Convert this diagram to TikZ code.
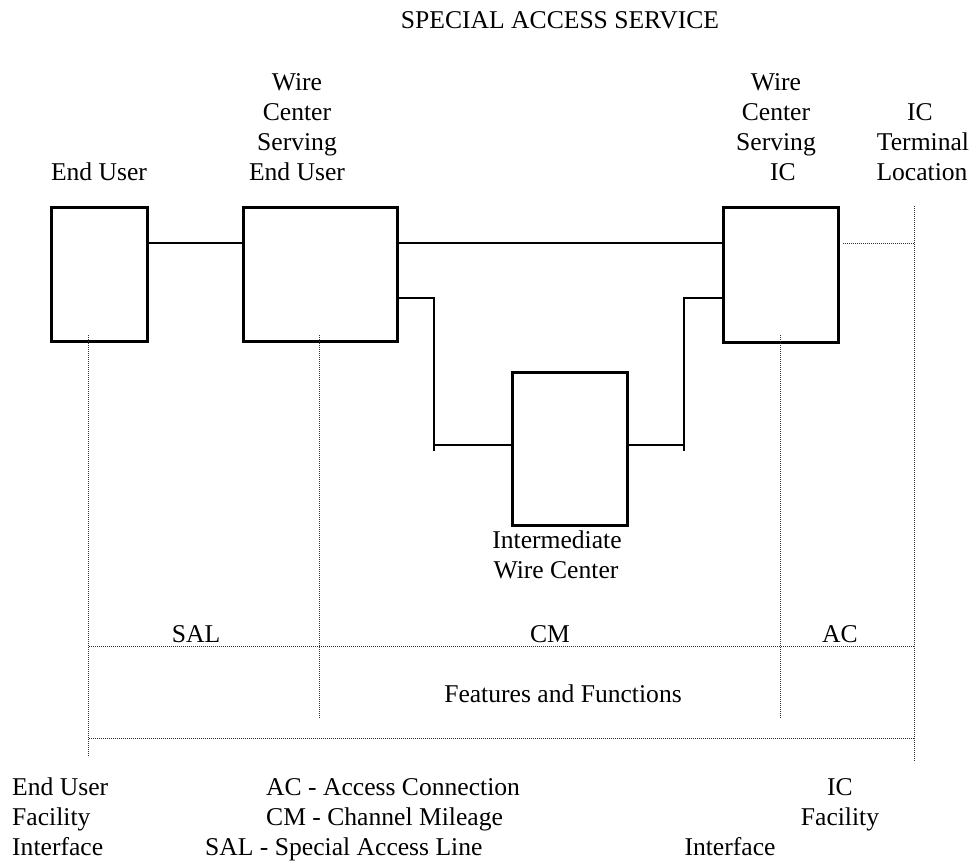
\documentclass[tikz,border=0pt]{standalone}
\usepackage{fontspec}
\setmainfont{Liberation Serif}
\begin{document}
\begin{tikzpicture}[x=1bp,y=-1bp,
  txt/.style={font=\fontsize{25.6bp}{30bp}\selectfont, inner sep=0pt, anchor=base},
  boxnode/.style={draw, line width=2.5bp, inner sep=0pt, anchor=north west},
  wire/.style={line width=2.4bp, line join=miter},
  guide/.style={draw=black!80, line width=1bp, dash pattern=on 1bp off 1bp}]
\useasboundingbox (0,0) rectangle (978,863);

% offices
\node[boxnode, minimum width=96bp,  minimum height=134bp] (eu)  at (50,206)  {};
\node[boxnode, minimum width=154bp, minimum height=134bp] (wce) at (242,206) {};
\node[boxnode, minimum width=115bp, minimum height=135bp] (wci) at (722,206) {};
\node[boxnode, minimum width=115bp, minimum height=153bp] (iwc) at (511,371) {};

% circuit levels and junctions
\coordinate (r1) at (0,243);
\coordinate (r2) at (0,298);
\coordinate (jl)  at (434,445);
\coordinate (jlb) at (434,451);
\coordinate (jr)  at (684,445);
\coordinate (jrb) at (684,451);

% direct and routed circuits
\draw[wire] (eu.east |- r1) -- (wce.west |- r1);
\draw[wire] (wce.east |- r1) -- (wci.west |- r1);
\draw[wire] (wce.east |- r2) -| (jlb);
\draw[wire] (jl) -- (iwc.west |- jl);
\draw[wire] (iwc.east |- jr) -- (jr);
\draw[wire] (jrb) |- (wci.west |- r2);

% interface guides
\coordinate (g1t) at (88.7,335); \coordinate (g1b) at (88.7,757);
\coordinate (g2t) at (319,335);  \coordinate (g2b) at (319,718);
\coordinate (g3t) at (780,335);  \coordinate (g3b) at (780,718);
\coordinate (g4t) at (914,206);  \coordinate (g4b) at (914,762);
\coordinate (s1) at (0,646);
\coordinate (s2) at (0,738);
\draw[guide] (g1t) -- (g1b);
\draw[guide] (g2t) -- (g2b);
\draw[guide] (g3t) -- (g3b);
\draw[guide] (g4t) -- (g4b);
\draw[guide] ([xshift=3bp]wci.east |- r1) -- (g4t |- r1);
\draw[guide] (g1t |- s1) -- (g4t |- s1);
\draw[guide] (g1t |- s2) -- (g4t |- s2);

% title
\node[txt] (title) at (560,28) {SPECIAL ACCESS SERVICE};

% office labels
\node[txt] (euL) at (99,180) {End User};
\foreach \t [count=\i] in {Wire,Center,Serving,End User}
  \node[txt] (wceL\i) at (297,60+30*\i) {\t};
\foreach \t [count=\i] in {Wire,Center,Serving}
  \node[txt] (wciL\i) at (776,60+30*\i) {\t};
\node[txt] (wciL4) at (783,180) {IC};
\node[txt] (ictL1) at (920,120) {IC};
\node[txt] (ictL2) at (923,150) {Terminal};
\node[txt] (ictL3) at (922,180) {Location};
\node[txt] (iwcL1) at (557,548) {Intermediate};
\node[txt] (iwcL2) at (556,578) {Wire Center};

% section labels
\node[txt] (sal) at (196,642) {SAL};
\node[txt] (cm)  at (550,642) {CM};
\node[txt] (ac)  at (840,642) {AC};
\node[txt] (ff)  at (563,702) {Features and Functions};

% interface names and legend
\node[txt, anchor=base west] (eufi1) at (12,795) {End User};
\node[txt, anchor=base west] (eufi2) at (12,825) {Facility};
\node[txt, anchor=base west] (eufi3) at (12,855) {Interface};
\node[txt, anchor=base west] (lg1) at (266,795) {AC - Access Connection};
\node[txt, anchor=base west] (lg2) at (266,825) {CM - Channel Mileage};
\node[txt, anchor=base west] (lg3) at (205,855) {SAL - Special Access Line};
\node[txt] (icfi1) at (840,795) {IC};
\node[txt] (icfi2) at (840,825) {Facility};
\node[txt] (icfi3) at (730,855) {Interface};
\end{tikzpicture}
\end{document}
